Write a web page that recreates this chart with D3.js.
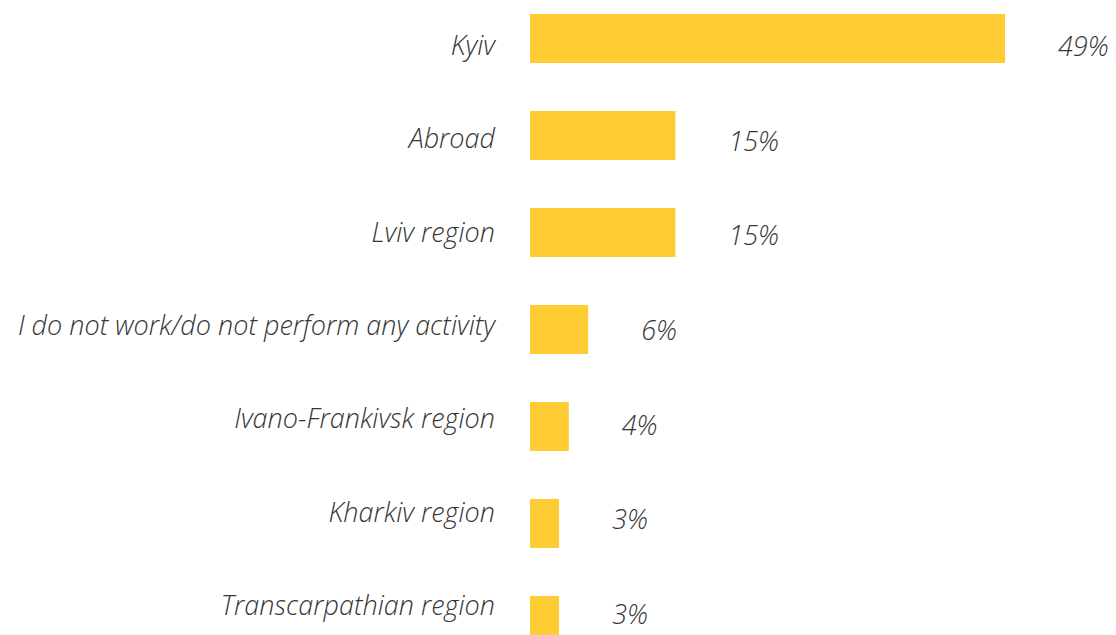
<!DOCTYPE html>
<html>
<head>
<meta charset="utf-8">
<script src="https://d3js.org/d3.v7.min.js"></script>
<style>
  body { margin: 0; background: #fff; }
  text { font-family: "Open Sans", Lato, sans-serif; font-style: italic; font-weight: 300; fill: #363636; }
</style>
</head>
<body>
<script>
// categories and shares (%)
const categories = ["Kyiv", "Abroad", "Lviv region", "I do not work/do not perform any activity",
                    "Ivano-Frankivsk region", "Kharkiv region", "Transcarpathian region"];
const values = [49, 15, 15, 6, 4, 3, 3];
const valueLabels = ["49%", "15%", "15%", "6%", "4%", "3%", "3%"];

const width = 1116, height = 635;

const svg = d3.select("body").append("svg")
    .attr("width", width)
    .attr("height", height);

const x = d3.scaleLinear()
    .domain([0, 49])
    .range([530, 1005]);

// bar rows
const y = d3.scaleBand()
    .domain(categories)
    .range([14, 645])
    .paddingInner(0.495)
    .paddingOuter(0);

// text rows sit on a slightly tighter grid than the bars
const yCat = d3.scalePoint().domain(categories).range([55, 615]);
const yVal = d3.scalePoint().domain(categories).range([56, 624]);

const data = categories.map((c, i) => ({cat: c, v: values[i], label: valueLabels[i]}));

// bars
svg.selectAll("rect.bar")
    .data(data)
    .enter().append("rect")
    .attr("class", "bar")
    .attr("x", x(0))
    .attr("y", d => y(d.cat))
    .attr("width", d => x(d.v) - x(0))
    .attr("height", y.bandwidth())
    .attr("fill", "#fdcb32");

// category labels
svg.selectAll("text.cat")
    .data(data)
    .enter().append("text")
    .attr("class", "cat")
    .attr("x", 495)
    .attr("y", d => yCat(d.cat))
    .attr("text-anchor", "end")
    .style("font-size", "27px")
    .text(d => d.cat);

// value labels
svg.selectAll("text.val")
    .data(data)
    .enter().append("text")
    .attr("class", "val")
    .attr("x", d => x(d.v) + 53)
    .attr("y", d => yVal(d.cat))
    .style("font-size", "27px")
    .text(d => d.label);
</script>
</body>
</html>
